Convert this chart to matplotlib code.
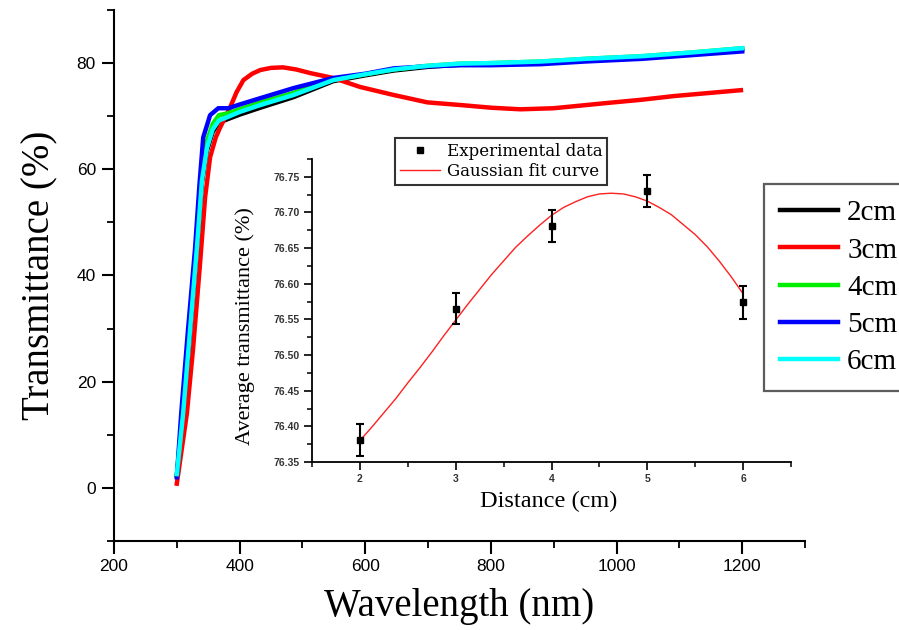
import matplotlib
matplotlib.use("Agg")
import matplotlib.pyplot as plt
from matplotlib.ticker import MultipleLocator, FormatStrFormatter
from matplotlib.lines import Line2D

# ---- transmittance spectra (wavelength in nm, transmittance in %) ----
wl_2cm = [300, 310, 321, 332, 340, 348, 357, 367, 380, 400, 433, 486, 549, 600,
          645, 700, 752, 800, 880, 950, 1040, 1120, 1200]
t_2cm = [2.3, 13.5, 29.0, 45.0, 57.5, 63.5, 67.0, 68.8, 69.4, 70.3, 71.6, 73.6,
         76.6, 77.7, 78.6, 79.3, 79.7, 79.8, 80.1, 80.6, 81.1, 81.8, 82.6]

wl_3cm = [300, 316, 326, 337, 345, 353, 362, 369, 378, 385, 395, 406, 420, 433,
          450, 469, 490, 513, 549, 592, 645, 699, 752, 800, 847, 900, 986, 1040,
          1092, 1150, 1198]
t_3cm = [0.8, 14.0, 26.4, 42.3, 54.7, 62.3, 66.0, 67.9, 70.0, 71.7, 74.5, 76.8,
         78.0, 78.7, 79.1, 79.2, 78.8, 78.1, 77.2, 75.5, 74.0, 72.6, 72.1, 71.6,
         71.3, 71.5, 72.5, 73.1, 73.8, 74.4, 74.9]

wl_4cm = [300, 309, 320, 331, 339, 347, 357, 367, 380, 400, 433, 486, 549, 600,
          645, 700, 752, 800, 880, 950, 1040, 1120, 1200]
t_4cm = [2.4, 14.0, 30.0, 45.5, 58.0, 65.0, 68.5, 70.2, 70.5, 71.3, 72.6, 74.4,
         76.9, 77.9, 78.8, 79.5, 79.9, 80.0, 80.3, 80.8, 81.3, 82.0, 82.8]

wl_5cm = [300, 307, 318, 329, 336, 342, 353, 366, 382, 400, 433, 486, 549, 600,
          645, 700, 752, 800, 880, 950, 1040, 1120, 1200]
t_5cm = [2.0, 14.0, 30.0, 45.0, 57.0, 66.0, 70.2, 71.5, 71.5, 72.2, 73.4, 75.3,
         77.2, 78.0, 79.0, 79.4, 79.6, 79.6, 79.8, 80.3, 80.8, 81.5, 82.2]

wl_6cm = [300, 310, 321, 332, 340, 348, 357, 367, 380, 400, 433, 486, 549, 600,
          645, 700, 752, 800, 880, 950, 1040, 1120, 1200]
t_6cm = [2.6, 14.0, 29.6, 45.3, 57.9, 64.0, 67.5, 69.2, 69.8, 70.8, 72.1, 74.0,
         76.8, 77.9, 78.8, 79.5, 79.9, 80.0, 80.3, 80.8, 81.3, 82.0, 82.8]

series_labels = ["2cm", "3cm", "4cm", "5cm", "6cm"]
series_colors = ["#000000", "#ff0000", "#00ee00", "#0000ff", "#00ffff"]

# ---- average transmittance vs. deposition distance ----
distance_cm = [2, 3, 4, 5, 6]
avg_t = [76.381, 76.565, 76.681, 76.730, 76.574]
avg_t_err = [0.022, 0.022, 0.022, 0.022, 0.023]

fit_x = [2.000, 2.125, 2.250, 2.375, 2.500, 2.625, 2.750, 2.875, 3.000,
         3.125, 3.250, 3.375, 3.500, 3.625, 3.750, 3.875, 4.000, 4.125,
         4.250, 4.375, 4.500, 4.625, 4.750, 4.875, 5.000, 5.125, 5.250,
         5.375, 5.500, 5.625, 5.750, 5.875, 6.000]
fit_y = [76.380, 76.399, 76.419, 76.439, 76.461, 76.482, 76.504, 76.527,
         76.549, 76.571, 76.592, 76.613, 76.632, 76.651, 76.667, 76.682,
         76.696, 76.707, 76.715, 76.722, 76.726, 76.727, 76.726, 76.722,
         76.716, 76.707, 76.697, 76.683, 76.669, 76.652, 76.632, 76.610,
         76.586]

W, H = 899, 630
fig = plt.figure(figsize=(W / 100, H / 100), dpi=100)
fig.patch.set_facecolor("white")

serif = ["Liberation Serif", "DejaVu Serif"]
sans = ["Liberation Sans", "DejaVu Sans"]

# ---------------- main spectra axes ----------------
ax = fig.add_axes([114 / W, 1 - 541 / H, 691 / W, 531 / H])
spectra = [(wl_2cm, t_2cm), (wl_3cm, t_3cm), (wl_4cm, t_4cm),
           (wl_5cm, t_5cm), (wl_6cm, t_6cm)]
for (wl, tr), lab, col in zip(spectra, series_labels, series_colors):
    ax.plot(wl, tr, color=col, lw=3.2, label=lab, solid_joinstyle="round")

ax.set_xlim(200, 1300)
ax.set_ylim(-10, 90)
ax.xaxis.set_major_locator(MultipleLocator(200))
ax.xaxis.set_minor_locator(MultipleLocator(100))
ax.yaxis.set_major_locator(MultipleLocator(20))
ax.yaxis.set_minor_locator(MultipleLocator(10))
ax.set_xticks([200, 400, 600, 800, 1000, 1200])
for s in ("top", "right"):
    ax.spines[s].set_visible(False)
for s in ("left", "bottom"):
    ax.spines[s].set_linewidth(1.5)
ax.tick_params(which="major", direction="out", length=9, width=1.5,
               labelsize=12.5, pad=4)
ax.tick_params(which="minor", direction="out", length=5, width=1.3)
for lbl in ax.get_xticklabels() + ax.get_yticklabels():
    lbl.set_family(sans)
ax.set_xlabel("Wavelength (nm)", family=serif, fontsize=28)
ax.set_ylabel("Transmittance (%)", family=serif, fontsize=28)
ax.xaxis.set_label_coords(0.5, -0.088)
ax.yaxis.set_label_coords(-0.08, 0.5)

leg = ax.legend(handles=[Line2D([], [], color=c, lw=3.2) for c in series_colors],
                labels=series_labels, loc="upper left",
                bbox_to_anchor=(764 / W, 1 - 184 / H),
                bbox_transform=fig.transFigure,
                prop={"family": serif, "size": 21},
                frameon=True, fancybox=False, edgecolor="#333333",
                borderpad=0.55, labelspacing=0.37, handlelength=2.0,
                handletextpad=0.3, borderaxespad=0)
leg.get_frame().set_linewidth(1.6)

# ---------------- inset: average transmittance ----------------
ax_in = fig.add_axes([312 / W, 1 - 462 / H, 479 / W, 303 / H])
ax_in.patch.set_alpha(0)
fit_line, = ax_in.plot(fit_x, fit_y, color="#ff2020", lw=1.0)
ax_in.errorbar(distance_cm, avg_t, yerr=avg_t_err, fmt="s", color="black",
               ms=4, capsize=3, elinewidth=1.5, capthick=1.5)
ax_in.set_xlim(1.5, 6.5)
ax_in.set_ylim(76.35, 76.775)
ax_in.xaxis.set_major_locator(MultipleLocator(1))
ax_in.xaxis.set_minor_locator(MultipleLocator(0.5))
ax_in.yaxis.set_major_locator(MultipleLocator(0.05))
ax_in.yaxis.set_minor_locator(MultipleLocator(0.025))
ax_in.yaxis.set_major_formatter(FormatStrFormatter("%.2f"))
ax_in.xaxis.set_major_formatter(FormatStrFormatter("%d"))
for s in ("top", "right"):
    ax_in.spines[s].set_visible(False)
for s in ("left", "bottom"):
    ax_in.spines[s].set_linewidth(1.3)
ax_in.tick_params(which="major", direction="out", length=6, width=1.2,
                  labelsize=7.5, pad=3)
ax_in.tick_params(which="minor", direction="out", length=3.5, width=1.1)
for lbl in ax_in.get_xticklabels() + ax_in.get_yticklabels():
    lbl.set_family(sans)
    lbl.set_weight("bold")
    lbl.set_color("#333333")
ax_in.set_xlabel("Distance (cm)", family=serif, fontsize=17.5)
ax_in.set_ylabel("Average transmittance (%)", family=serif, fontsize=16)
ax_in.xaxis.set_label_coords(0.495, -0.095)
ax_in.yaxis.set_label_coords(-0.12, 0.45)

leg_in = ax_in.legend([Line2D([], [], ls="none", marker="s", ms=4, color="black"),
                       fit_line],
                      ["Experimental data", "Gaussian fit curve"],
                      loc="upper left", bbox_to_anchor=(395 / W, 1 - 138 / H),
                      bbox_transform=fig.transFigure,
                      prop={"family": ["DejaVu Serif"], "size": 12},
                      frameon=True, fancybox=False, edgecolor="black",
                      borderpad=0.3, labelspacing=0.2, handlelength=2.4,
                      handletextpad=0.4, borderaxespad=0)
leg_in.get_frame().set_linewidth(1.5)

fig.savefig("out.png", dpi=100, facecolor="white")
